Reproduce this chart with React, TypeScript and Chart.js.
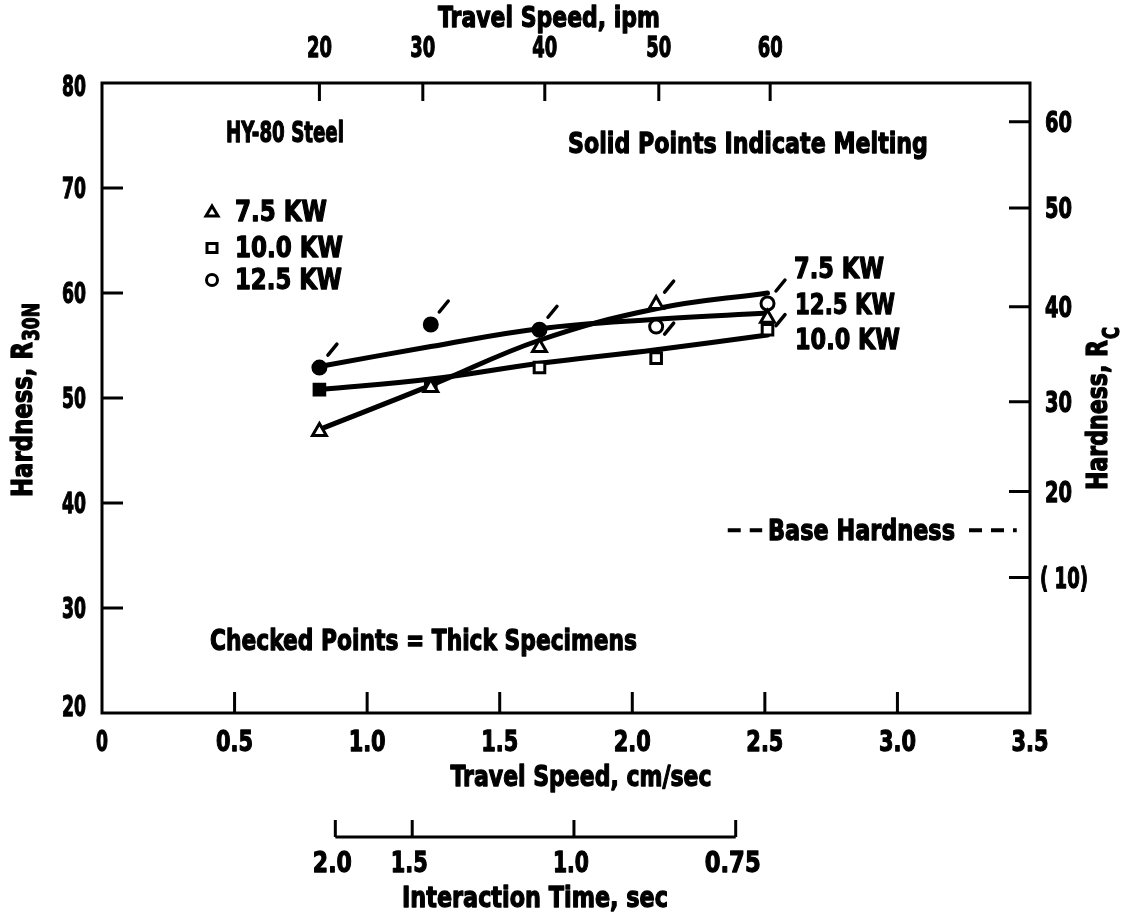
import React, { useEffect, useRef } from "react";
import { Chart, registerables } from "chart.js";

Chart.register(...registerables);

// ---- data ----
const speedCm = [0.82, 1.24, 1.65, 2.09, 2.51];
const hard75 = [46.8, 51.0, 54.8, 58.9, 57.6];
const hard100 = [50.8, 51.2, 52.9, 53.8, 56.5];
const hard125 = [52.9, 57.0, 56.5, 56.8, 59.0];
const melt75 = [false, false, false, false, false];
const melt100 = [true, true, false, false, false];
const melt125 = [true, true, true, false, false];
const check75 = ["", "", "", "up", "right"];
const check100 = ["", "", "", "", ""];
const check125 = ["up", "up", "up", "right", "up"];
const fit75 = [47.0, 51.2, 55.5, 58.5, 60.0];
const fit100 = [50.8, 51.8, 53.3, 54.6, 56.0];
const fit125 = [53.0, 54.9, 56.6, 57.5, 58.1];

const xTickValues = [0, 0.5, 1, 1.5, 2, 2.5, 3, 3.5];
const xTickLabels = ["0", "0.5", "1.0", "1.5", "2.0", "2.5", "3.0", "3.5"];
const yTickValues = [20, 30, 40, 50, 60, 70, 80];
const yTickLabels = ["20", "30", "40", "50", "60", "70", "80"];
const ipmLabels = ["20", "30", "40", "50", "60"];
const ipmAt = [0.82, 1.21, 1.67, 2.1, 2.52];
const rcLabels = ["60", "50", "40", "30", "20", "( 10)"];
const rcAt = [76.3, 68.1, 58.7, 49.65, 41.1, 32.9];
const timeLabels = ["2.0", "1.5", "1.0", "0.75"];
const timeAt = [0.88, 1.17, 1.78, 2.39];
const baseHardness = 37.4;
const seriesNames = ["7.5 KW", "10.0 KW", "12.5 KW"];

const FONT = '"DejaVu Sans", "Liberation Sans", sans-serif';

function fitText(
  ctx: CanvasRenderingContext2D,
  str: string,
  x: number,
  cy: number,
  size: number,
  w: number,
  align: "left" | "center" | "right"
) {
  ctx.save();
  ctx.font = `bold ${size}px ${FONT}`;
  const m = ctx.measureText(str).width || 1;
  const sx = w / m;
  const left = align === "center" ? x - w / 2 : align === "right" ? x - w : x;
  ctx.translate(left, cy + size * 0.36);
  ctx.scale(sx, 1);
  ctx.textAlign = "left";
  ctx.textBaseline = "alphabetic";
  ctx.fillStyle = "#000";
  ctx.strokeStyle = "#000";
  ctx.lineWidth = 1.3;
  ctx.lineJoin = "round";
  ctx.fillText(str, 0, 0);
  ctx.strokeText(str, 0, 0);
  ctx.restore();
}

function rotatedTitle(
  ctx: CanvasRenderingContext2D,
  main: string,
  sub: string,
  cx: number,
  bottomY: number,
  size: number,
  mainW: number,
  subW: number,
  subShift: number
) {
  ctx.save();
  ctx.translate(cx, bottomY);
  ctx.rotate(-Math.PI / 2);
  fitText(ctx, main, 0, 0, size, mainW, "left");
  fitText(ctx, sub, mainW + 1, subShift, size * 0.8, subW, "left");
  ctx.restore();
}

function marker(ctx: CanvasRenderingContext2D, kind: string, x: number, y: number) {
  ctx.save();
  ctx.lineWidth = 3;
  ctx.strokeStyle = "#000";
  ctx.fillStyle = "#fff";
  ctx.beginPath();
  if (kind === "triangle") {
    ctx.moveTo(x, y - 6);
    ctx.lineTo(x + 6, y + 4);
    ctx.lineTo(x - 6, y + 4);
    ctx.closePath();
  } else if (kind === "rect") {
    ctx.rect(x - 5, y - 4.5, 10, 9);
  } else {
    ctx.arc(x, y, 5.5, 0, Math.PI * 2);
  }
  ctx.fill();
  ctx.stroke();
  ctx.restore();
}

const decor = {
  id: "decor",
  afterDatasetsDraw(chart: any) {
    const ctx: CanvasRenderingContext2D = chart.ctx;
    const { left, right, top, bottom } = chart.chartArea;
    const xs = chart.scales.x;
    const ys = chart.scales.y;
    const tick = 21;
    ctx.save();
    ctx.strokeStyle = "#000";
    ctx.lineWidth = 3;
    ctx.lineCap = "butt";
    // frame
    ctx.strokeRect(left, top, right - left, bottom - top);
    ctx.beginPath();
    // left ticks
    yTickValues.forEach((v) => {
      if (v === 20 || v === 80) return;
      const py = ys.getPixelForValue(v);
      ctx.moveTo(left, py);
      ctx.lineTo(left + tick, py);
    });
    // bottom ticks
    xTickValues.forEach((v) => {
      if (v === 0 || v === 3.5) return;
      const px = xs.getPixelForValue(v);
      ctx.moveTo(px, bottom);
      ctx.lineTo(px, bottom - tick);
    });
    // top ticks
    ipmAt.forEach((v) => {
      const px = xs.getPixelForValue(v);
      ctx.moveTo(px, top);
      ctx.lineTo(px, top + 18);
    });
    // right ticks
    rcAt.forEach((v) => {
      const py = ys.getPixelForValue(v);
      ctx.moveTo(right, py);
      ctx.lineTo(right - tick, py);
    });
    ctx.stroke();

    // interaction time axis
    const iy = 837;
    ctx.beginPath();
    ctx.moveTo(xs.getPixelForValue(timeAt[0]), iy);
    ctx.lineTo(xs.getPixelForValue(timeAt[timeAt.length - 1]), iy);
    timeAt.forEach((v) => {
      const px = xs.getPixelForValue(v);
      ctx.moveTo(px, iy);
      ctx.lineTo(px, iy - 17);
    });
    ctx.stroke();

    // base hardness dashes
    const by = ys.getPixelForValue(baseHardness);
    ctx.save();
    ctx.lineWidth = 4;
    ctx.setLineDash([13, 9]);
    ctx.beginPath();
    ctx.moveTo(xs.getPixelForValue(2.36), by);
    ctx.lineTo(xs.getPixelForValue(2.49), by);
    ctx.moveTo(xs.getPixelForValue(3.27), by);
    ctx.lineTo(xs.getPixelForValue(3.45), by);
    ctx.stroke();
    ctx.restore();

    // check marks (thick specimens)
    const checks = [check75, check100, check125];
    ctx.lineWidth = 3.5;
    ctx.lineCap = "round";
    ctx.beginPath();
    checks.forEach((arr, di) => {
      const meta = chart.getDatasetMeta(di);
      arr.forEach((c, i) => {
        if (!c) return;
        const p = meta.data[i];
        const cx = p.x + 13;
        const cy = c === "up" ? p.y - 18 : p.y + 2;
        ctx.moveTo(cx - 4.5, cy + 5.5);
        ctx.lineTo(cx + 4.5, cy - 5.5);
      });
    });
    ctx.stroke();
    ctx.restore();

    // tick labels
    yTickValues.forEach((v, i) => {
      fitText(ctx, yTickLabels[i], 86, ys.getPixelForValue(v) + (v === 80 ? 3 : v === 20 ? -7 : 0), 29, 24, "right");
    });
    xTickValues.forEach((v, i) => {
      fitText(ctx, xTickLabels[i], xs.getPixelForValue(v), 741, 29, v === 0 ? 12 : 37, "center");
    });
    ipmAt.forEach((v, i) => {
      fitText(ctx, ipmLabels[i], xs.getPixelForValue(v), 47, 29, 25, "center");
    });
    rcAt.forEach((v, i) => {
      const lbl = rcLabels[i];
      fitText(ctx, lbl, lbl.length > 2 ? 1040 : 1045, ys.getPixelForValue(v), 29, lbl.length > 2 ? 48 : 27, "left");
    });
    const tw = [39, 37, 36, 56];
    timeAt.forEach((v, i) => {
      fitText(ctx, timeLabels[i], xs.getPixelForValue(v) - 3, 862, 29, tw[i], "center");
    });

    // axis titles
    fitText(ctx, "Travel Speed, ipm", 549, 17, 28, 222, "center");
    fitText(ctx, "Travel Speed, cm/sec", 581, 776, 28, 261, "center");
    fitText(ctx, "Interaction Time, sec", 535, 897, 28, 266, "center");
    rotatedTitle(ctx, "Hardness, R", "30N", 22, 497, 28, 155, 38, 9);
    rotatedTitle(ctx, "Hardness, R", "C", 1097, 490, 28, 150, 12, 14);

    // annotations
    fitText(ctx, "HY-80 Steel", 226, 132, 28, 118, "left");
    fitText(ctx, "Solid Points Indicate Melting", 568, 143, 28, 360, "left");
    fitText(ctx, "Checked Points = Thick Specimens", 210, 640, 28, 427, "left");
    fitText(ctx, "Base Hardness", 768, by, 28, 187, "left");

    // legend
    const kinds = ["triangle", "rect", "circle"];
    const ly = [212, 248, 280];
    const lw = [92, 108, 107];
    kinds.forEach((k, i) => {
      marker(ctx, k, 212, ly[i]);
      fitText(ctx, seriesNames[i], 235, ly[i] - 1, 28, lw[i], "left");
    });

    // curve labels
    fitText(ctx, seriesNames[0], 794, 268, 28, 90, "left");
    fitText(ctx, seriesNames[2], 795, 304, 28, 100, "left");
    fitText(ctx, seriesNames[1], 795, 339, 28, 105, "left");
  },
};

function pts(ys: number[]) {
  return speedCm.map((x, i) => ({ x, y: ys[i] }));
}

export default function App() {
  const ref = useRef<HTMLCanvasElement>(null);
  useEffect(() => {
    if (!ref.current) return;
    const mk = (label: string, ys: number[], melt: boolean[], style: string, r: number) => ({
      label,
      data: pts(ys),
      showLine: false,
      pointStyle: style,
      pointRadius: r,
      pointBorderWidth: 3,
      pointBorderColor: "#000",
      pointBackgroundColor: melt.map((m) => (m ? "#000" : "#fff")),
      order: 0,
    });
    const ln = (label: string, ys: number[]) => ({
      label,
      data: pts(ys),
      showLine: true,
      borderColor: "#000",
      borderWidth: 5,
      borderCapStyle: "round",
      pointRadius: 0,
      tension: 0.4,
      fill: false,
      order: 1,
    });
    const chart = new Chart(ref.current, {
      type: "scatter",
      data: {
        datasets: [
          mk("7.5 KW", hard75, melt75, "triangle", 8),
          mk("10.0 KW", hard100, melt100, "rect", 7.5),
          mk("12.5 KW", hard125, melt125, "circle", 6.5),
          ln("7.5 KW fit", fit75),
          ln("10.0 KW fit", fit100),
          ln("12.5 KW fit", fit125),
        ] as any,
      },
      options: {
        responsive: false,
        animation: false,
        devicePixelRatio: 1,
        layout: { padding: { left: 102, right: 102, top: 83, bottom: 211 } },
        plugins: { legend: { display: false }, tooltip: { enabled: false } },
        events: [],
        scales: {
          x: { type: "linear", min: 0, max: 3.5, display: false },
          y: { type: "linear", min: 20, max: 80, display: false },
        },
      },
      plugins: [decor],
    });
    return () => chart.destroy();
  }, []);
  return (
    <div style={{ position: "fixed", left: 0, top: 0, width: 1132, height: 924, background: "#fff" }}>
      <canvas ref={ref} width={1132} height={924} style={{ display: "block", width: 1132, height: 924 }} />
    </div>
  );
}
